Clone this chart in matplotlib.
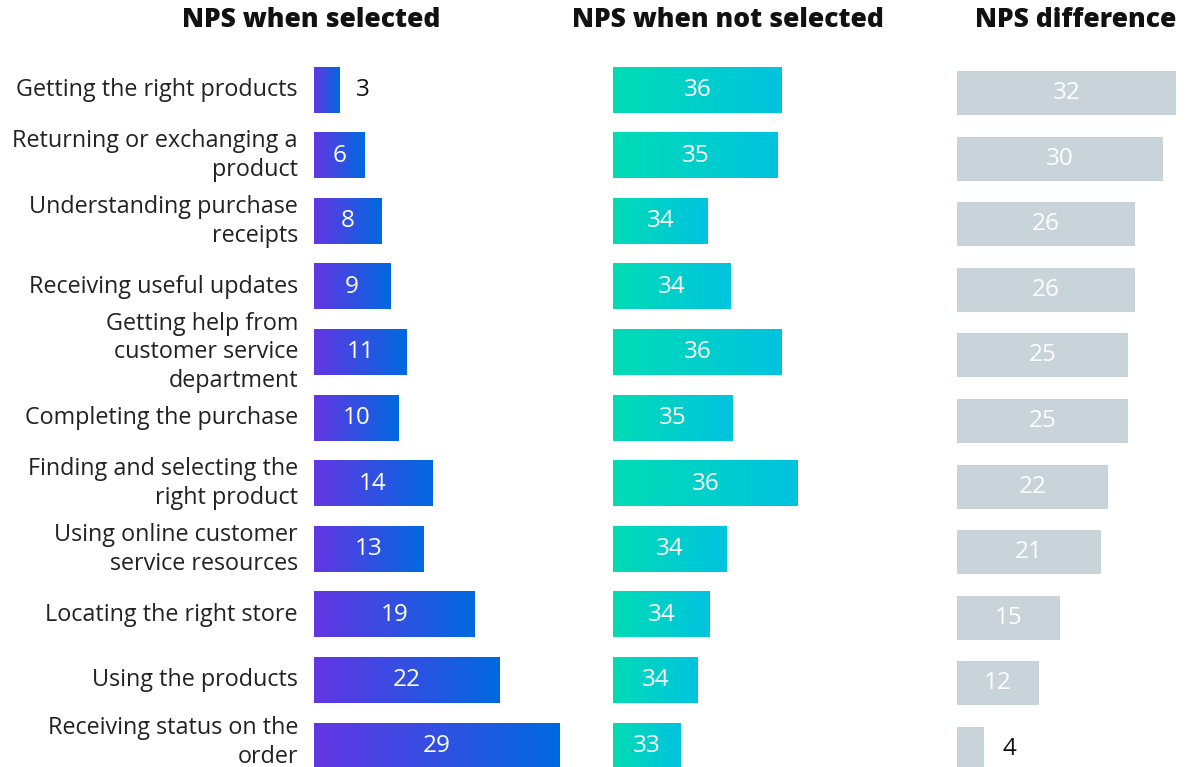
import numpy as np
import matplotlib.pyplot as plt
from matplotlib.colors import LinearSegmentedColormap

# data
categories = [
    "Getting the right products",
    "Returning or exchanging a\nproduct",
    "Understanding purchase\nreceipts",
    "Receiving useful updates",
    "Getting help from\ncustomer service\ndepartment",
    "Completing the purchase",
    "Finding and selecting the\nright product",
    "Using online customer\nservice resources",
    "Locating the right store",
    "Using the products",
    "Receiving status on the\norder",
]
nps_selected = [3, 6, 8, 9, 11, 10, 14, 13, 19, 22, 29]
nps_not_selected = [36, 35, 34, 34, 36, 35, 36, 34, 34, 34, 33]
# bar lengths in the middle panel do not follow the printed values
not_selected_bar = [169, 165, 95, 118, 169, 120, 185, 114, 97, 85, 68]
nps_difference = [32, 30, 26, 26, 25, 25, 22, 21, 15, 12, 4]

plt.rcParams['font.family'] = ['Open Sans', 'DejaVu Sans']

W, H = 1192, 767
fig = plt.figure(figsize=(W / 100, H / 100), dpi=100)

row_px = 65.6
top_px = 90 - row_px / 2
n = len(categories)
ymax = (H - top_px) / row_px - 0.5
fs = 16.8     # category labels
vfs = 17.5    # value labels


def make_ax(left_px, width_px, xmax, shift=0):
    top = top_px + shift
    bottom = H - (top + (ymax + 0.5) * row_px)
    ax = fig.add_axes([left_px / W, bottom / H, width_px / W, (ymax + 0.5) * row_px / H])
    ax.set_xlim(0, xmax)
    ax.set_ylim(ymax, -0.5)
    ax.axis('off')
    return ax


purple = LinearSegmentedColormap.from_list('p', ['#6436e4', '#0069df'])
teal = LinearSegmentedColormap.from_list('t', ['#00dcb4', '#00c3e0'])
grad = np.linspace(0, 1, 256).reshape(1, -1)
bh = 0.69


def grad_bars(ax, lengths, cmap):
    for i, w in enumerate(lengths):
        ax.imshow(grad, cmap=cmap, aspect='auto', interpolation='bicubic',
                  extent=[0, w, i + bh / 2, i - bh / 2], zorder=2)


# left panel
ax1 = make_ax(314, 8.45 * 32, 32)
grad_bars(ax1, nps_selected, purple)
ax1.set_xlim(0, 32)
ax1.set_ylim(ymax, -0.5)
for i, v in enumerate(nps_selected):
    if v < 5:
        ax1.text(v + 2.8, i, str(v), ha='center', va='center', fontsize=vfs, color='#111111', zorder=3)
    else:
        ax1.text(v / 2, i, str(v), ha='center', va='center', fontsize=vfs, color='white', zorder=3)
    # last label sits right at the bottom edge, lift it a touch
    ly = i - 0.05 if i == n - 1 else i
    ax1.text(-1.9, ly, categories[i], ha='right', va='center', fontsize=fs,
             color='#222222', linespacing=1.26)

# middle panel
ax2 = make_ax(613, 200, 200)
grad_bars(ax2, not_selected_bar, teal)
ax2.set_xlim(0, 200)
ax2.set_ylim(ymax, -0.5)
for i, (w, v) in enumerate(zip(not_selected_bar, nps_not_selected)):
    ax2.text(w / 2, i, str(v), ha='center', va='center', fontsize=vfs, color='white', zorder=3)

# right panel
ax3 = make_ax(957, 6.85 * 34, 34, shift=3)
ax3.barh(range(n), nps_difference, height=0.67, color='#c8d3da', zorder=2)
ax3.set_xlim(0, 34)
ax3.set_ylim(ymax, -0.5)
for i, v in enumerate(nps_difference):
    if v < 6:
        ax3.text(v + 3.6, i, str(v), ha='center', va='center', fontsize=vfs, color='#111111', zorder=3)
    else:
        ax3.text(v / 2, i, str(v), ha='center', va='center', fontsize=vfs, color='white', zorder=3)

# panel titles
for x, t in [(311, "NPS when selected"), (728, "NPS when not selected"), (1076, "NPS difference")]:
    fig.text(x / W, 1 - 20 / H, t, ha='center', va='center', fontsize=19, fontweight='heavy', color='#111111')

fig.savefig('out.png', dpi=100)
